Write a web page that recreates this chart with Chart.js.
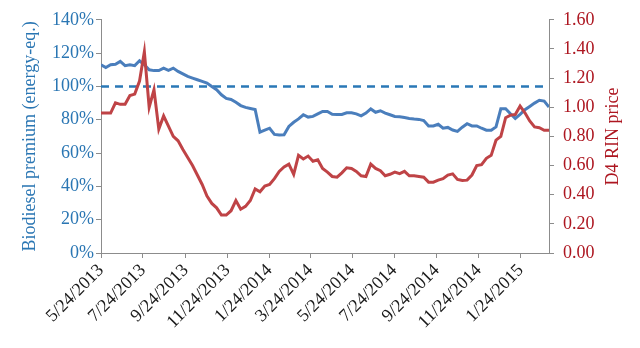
<!DOCTYPE html>
<html>
<head>
<meta charset="utf-8">
<script src="https://cdn.jsdelivr.net/npm/chart.js@4.4.1/dist/chart.umd.min.js"></script>
<style>
  html, body { margin: 0; padding: 0; background: #fff; }
  #wrap { width: 640px; height: 348px; }
</style>
</head>
<body>
<div id="wrap"><canvas id="chart" width="640" height="348"></canvas></div>
<script>
// x-axis tick labels (every two months)
const xTickLabels = ["5/24/2013", "7/24/2013", "9/24/2013", "11/24/2013", "1/24/2014", "3/24/2014",
  "5/24/2014", "7/24/2014", "9/24/2014", "11/24/2014", "1/24/2015"];

// weekly values, starting 5/24/2013
const rinPrice = [
  0.96, 0.96, 0.96, 1.03, 1.02, 1.02, 1.08, 1.09, 1.18, 1.38,
  1.00, 1.12, 0.85, 0.94, 0.87, 0.80, 0.77, 0.71, 0.655, 0.60,
  0.535, 0.47, 0.39, 0.34, 0.31, 0.26, 0.26, 0.29, 0.36, 0.30,
  0.32, 0.36, 0.44, 0.42, 0.46, 0.47, 0.51, 0.56, 0.59, 0.61,
  0.54, 0.67, 0.645, 0.665, 0.63, 0.64, 0.58, 0.555, 0.525, 0.52,
  0.55, 0.585, 0.58, 0.56, 0.53, 0.525, 0.61, 0.58, 0.565, 0.53,
  0.54, 0.555, 0.545, 0.56, 0.53, 0.53, 0.525, 0.52, 0.486, 0.486,
  0.50, 0.51, 0.535, 0.543, 0.505, 0.497, 0.50, 0.535, 0.60, 0.606,
  0.65, 0.67, 0.774, 0.80, 0.928, 0.946, 0.95, 1.008, 0.962, 0.906,
  0.865, 0.86, 0.842, 0.842
];

// biodiesel premium in %
const premium = [
  113, 111.4, 113, 113.3, 115, 112.5, 113, 112.5, 115.4, 113,
  110, 109.5, 109.5, 111, 109.7, 111, 109, 107.5, 106, 105,
  104, 103, 102, 100, 98, 95, 92.8, 92.2, 90.5, 88.5,
  87.4, 86.8, 86.2, 72.5, 73.7, 74.9, 71.2, 70.9, 71, 76,
  78.5, 80.5, 83, 81.6, 82, 83.5, 85, 85, 83.3, 83.2,
  83.2, 84.2, 84.2, 83.5, 82.3, 84, 86.5, 84.5, 85.4, 84,
  83, 82, 81.8, 81.3, 80.8, 80.4, 80.2, 79.5, 76.3, 76.3,
  77.3, 74.9, 75.4, 73.8, 73, 75.5, 77.6, 76.3, 76.3, 74.9,
  73.7, 73.7, 75.7, 86.6, 86.6, 83.6, 80.8, 83.2, 86, 88,
  90, 91.7, 91.2, 87.6
];

const parityLevel = 100;

const BLUE_TEXT = "#2a76b3";
const RED_TEXT = "#ad1620";
const FONT = "'Liberation Serif', 'Times New Roman', serif";

function toDays(label) {
  const [m, d, y] = label.split("/").map(Number);
  return Date.UTC(y, m - 1, d) / 86400000;
}
const day0 = toDays(xTickLabels[0]);
const tickDays = xTickLabels.map((l) => toDays(l) - day0);
const lastDay = (premium.length - 1) * 7;
const weekly = (vals) => vals.map((v, i) => ({ x: i * 7, y: v }));

// right-hand title reads bottom-to-top like the left one
const rightTitle = {
  id: "rightTitle",
  afterDraw(chart) {
    const { ctx, chartArea } = chart;
    const s = chart.scales.yR;
    ctx.save();
    ctx.translate(s.right - 27, (chartArea.top + chartArea.bottom) / 2);
    ctx.rotate(-Math.PI / 2);
    ctx.font = "18px " + FONT;
    ctx.fillStyle = RED_TEXT;
    ctx.textAlign = "center";
    ctx.textBaseline = "middle";
    ctx.fillText("D4 RIN price", 0, 0);
    ctx.restore();
  },
};

const axisGrey = "#8c8c8c";

new Chart(document.getElementById("chart"), {
  type: "line",
  data: {
    datasets: [
      {
        label: "D4 RIN price",
        data: weekly(rinPrice),
        yAxisID: "yR",
        borderColor: "#bf4346",
        borderWidth: 3,
        pointRadius: 0,
        tension: 0,
      },
      {
        label: "Biodiesel premium",
        data: weekly(premium),
        yAxisID: "yL",
        borderColor: "#4a7ebc",
        borderWidth: 3,
        pointRadius: 0,
        tension: 0,
      },
      {
        label: "100%",
        data: [{ x: 0, y: parityLevel }, { x: lastDay, y: parityLevel }],
        yAxisID: "yL",
        borderColor: "#2a78b6",
        borderWidth: 2.5,
        borderDash: [8, 6],
        pointRadius: 0,
      },
    ],
  },
  options: {
    responsive: false,
    animation: false,
    layout: { padding: { top: 18, left: 0, right: 0, bottom: 0 } },
    plugins: { legend: { display: false }, tooltip: { enabled: false } },
    scales: {
      x: {
        type: "linear",
        min: 0,
        max: lastDay,
        afterBuildTicks: (s) => { s.ticks = tickDays.map((v) => ({ value: v })); },
        afterFit: (s) => { s.height = 95; },
        ticks: {
          autoSkip: false,
          minRotation: 45,
          maxRotation: 45,
          padding: 2,
          color: "#1a1a1a",
          font: { family: FONT, size: 18 },
          callback: (v, i) => xTickLabels[i],
        },
        grid: { drawOnChartArea: false, tickLength: 5, color: axisGrey },
        border: { color: axisGrey },
      },
      yL: {
        position: "left",
        min: 0,
        max: 140,
        afterFit: (s) => { s.width = 101; },
        ticks: {
          stepSize: 20,
          padding: 2,
          color: BLUE_TEXT,
          font: { family: FONT, size: 18 },
          callback: (v) => v + "%",
        },
        grid: { drawOnChartArea: false, tickLength: 5, color: axisGrey },
        border: { color: axisGrey },
        title: {
          display: true,
          text: "Biodiesel premium (energy-eq.)",
          color: BLUE_TEXT,
          font: { family: FONT, size: 18 },
          padding: { top: 19, bottom: 0 },
        },
      },
      yR: {
        position: "right",
        min: 0,
        max: 1.6,
        afterFit: (s) => { s.width = 91; },
        ticks: {
          stepSize: 0.2,
          padding: 9,
          color: RED_TEXT,
          font: { family: FONT, size: 18 },
          callback: (v) => Number(v).toFixed(2),
        },
        grid: { drawOnChartArea: false, tickLength: 5, color: axisGrey },
        border: { color: axisGrey },
      },
    },
  },
  plugins: [rightTitle],
});
</script>
</body>
</html>
